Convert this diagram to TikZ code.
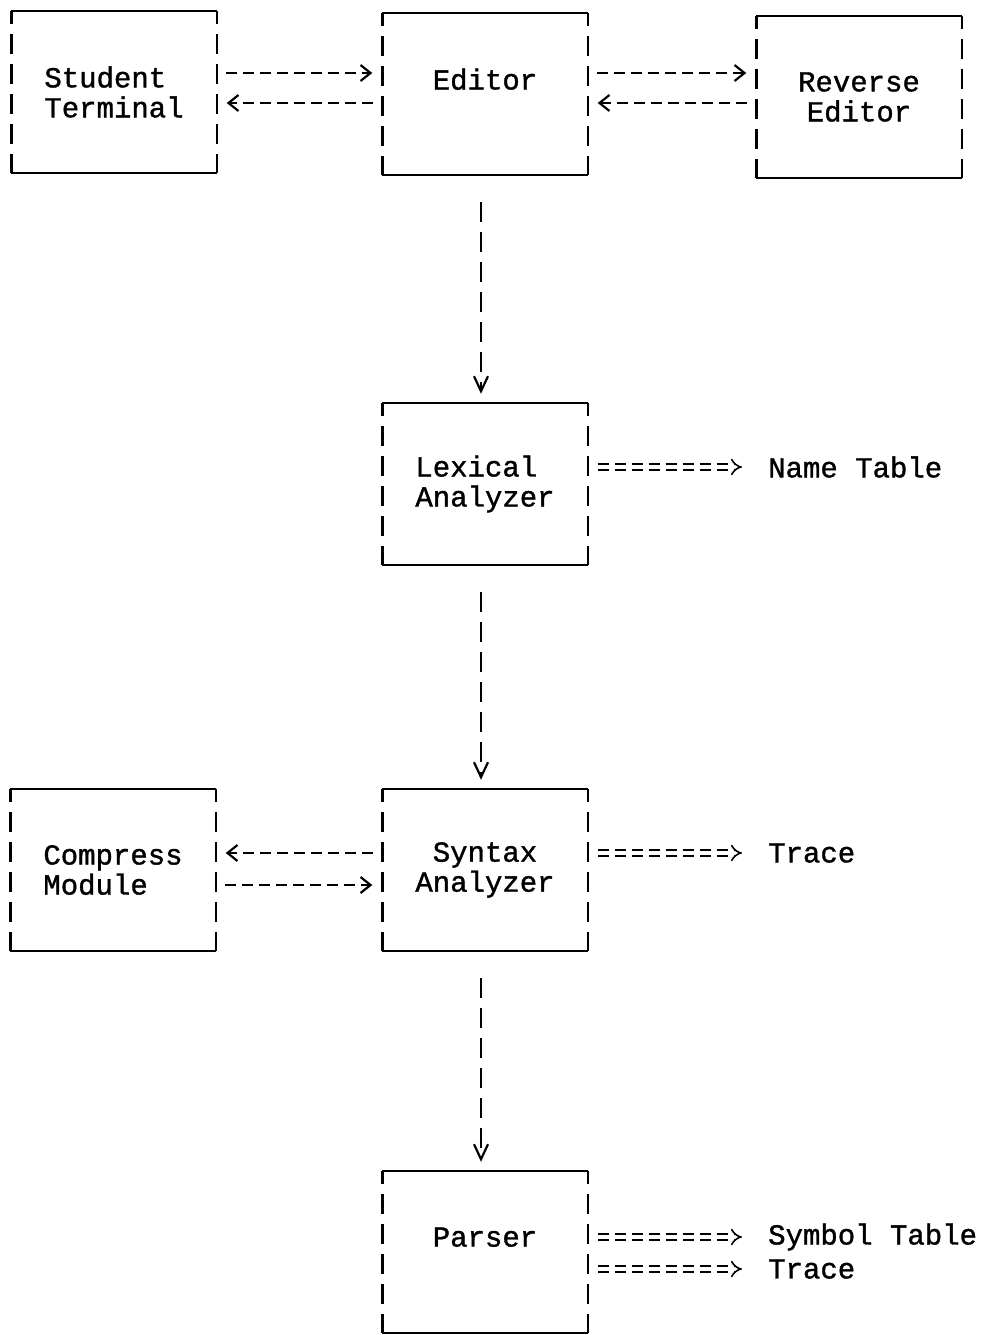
\documentclass[tikz,border=0pt]{standalone}
\usepackage{fontspec}
\newfontfamily\ttfont[FakeBold=1.2]{Liberation Mono}
\newcommand\boxfont{\ttfont\fontsize{29}{30}\selectfont}
\usetikzlibrary{arrows.meta}

\tikzset{
  box/.style={minimum width=205pt, minimum height=162pt, inner sep=0pt, align=center, font=\boxfont},
  rim/.style={line width=2.4pt},
  side/.style={line width=2.4pt, dash pattern=on 20pt off 10pt, dash phase=7pt},
  flow/.style={line width=2pt, dash pattern=on 11pt off 6pt, shorten <=9pt, shorten >=10pt,
    -{Straight Barb[length=10pt,width=16pt,line width=2.2pt]}},
  down/.style={line width=2.2pt, dash pattern=on 20pt off 10pt, shorten <=27pt, shorten >=9pt,
    -{Straight Barb[length=15pt,width=14pt,line width=2.2pt]}},
  emit/.style={double, double distance=4pt, line width=1.6pt, dash pattern=on 11pt off 6pt,
    shorten <=10pt, shorten >=26pt, -{Implies[length=10pt,width=16pt]}},
  sink/.style={anchor=west, inner sep=0pt, font=\boxfont}
}

\begin{document}
\begin{tikzpicture}[x=1pt, y=-1pt]
    \fill[white] (0,0) rectangle (988,1335);
    \useasboundingbox (0,0) rectangle (988,1335);

    % Modulos
    \node[box, align=left] (st) at (114,92) {Student\\Terminal};
    \node[box] (ed) at (485,94) {Editor\\\mbox{}};
    \node[box] (re) at (859,97) {Reverse\\Editor};
    \node[box, align=left] (lx) at (485,484) {Lexical\\Analyzer};
    \node[box, align=left] (cm) at (113,870) {Compress\\Module};
    \node[box] (sy) at (485,870) {Syntax\\Analyzer};
    \node[box] (pa) at (485,1252) {Parser\\\mbox{}};

    % Bordes de las cajas
    \foreach \b in {st,ed,re,lx,cm,sy,pa} {
        \draw[rim] (\b.north west) -- (\b.north east);
        \draw[rim] (\b.south west) -- (\b.south east);
        \draw[side] (\b.north west) -- (\b.south west);
        \draw[side] (\b.north east) -- (\b.south east);
    }

    % Salidas
    \node[sink] (nt) at (768,467) {Name Table};
    \node[sink] (tr) at (768,853) {Trace};
    \node[sink] (sb) at (768,1237) {Symbol Table};
    \node[sink] (tp) at (768,1269) {Trace};

    % Filas y columna de las flechas
    \coordinate (upper) at (0,73);
    \coordinate (lower) at (0,103);
    \coordinate (mid) at (0,853);
    \coordinate (base) at (0,885);
    \coordinate (col) at (481,0);

    % Flechas entre modulos
    \draw[flow] (st.east |- upper) -- (ed.west |- upper);
    \draw[flow] (ed.west |- lower) -- (st.east |- lower);
    \draw[flow] (ed.east |- upper) -- (re.west |- upper);
    \draw[flow] (re.west |- lower) -- (ed.east |- lower);
    \draw[flow] (sy.west |- mid) -- (cm.east |- mid);
    \draw[flow] (cm.east |- base) -- (sy.west |- base);

    \draw[down] (ed.south -| col) -- (lx.north -| col);
    \draw[down] (lx.south -| col) -- (sy.north -| col);
    \draw[down] (sy.south -| col) -- (pa.north -| col);

    % Flechas dobles hacia las tablas
    \draw[emit] (lx.east |- nt.west) -- (nt.west);
    \draw[emit] (sy.east |- tr.west) -- (tr.west);
    \draw[emit] (pa.east |- sb.west) -- (sb.west);
    \draw[emit] (pa.east |- tp.west) -- (tp.west);
\end{tikzpicture}
\end{document}
